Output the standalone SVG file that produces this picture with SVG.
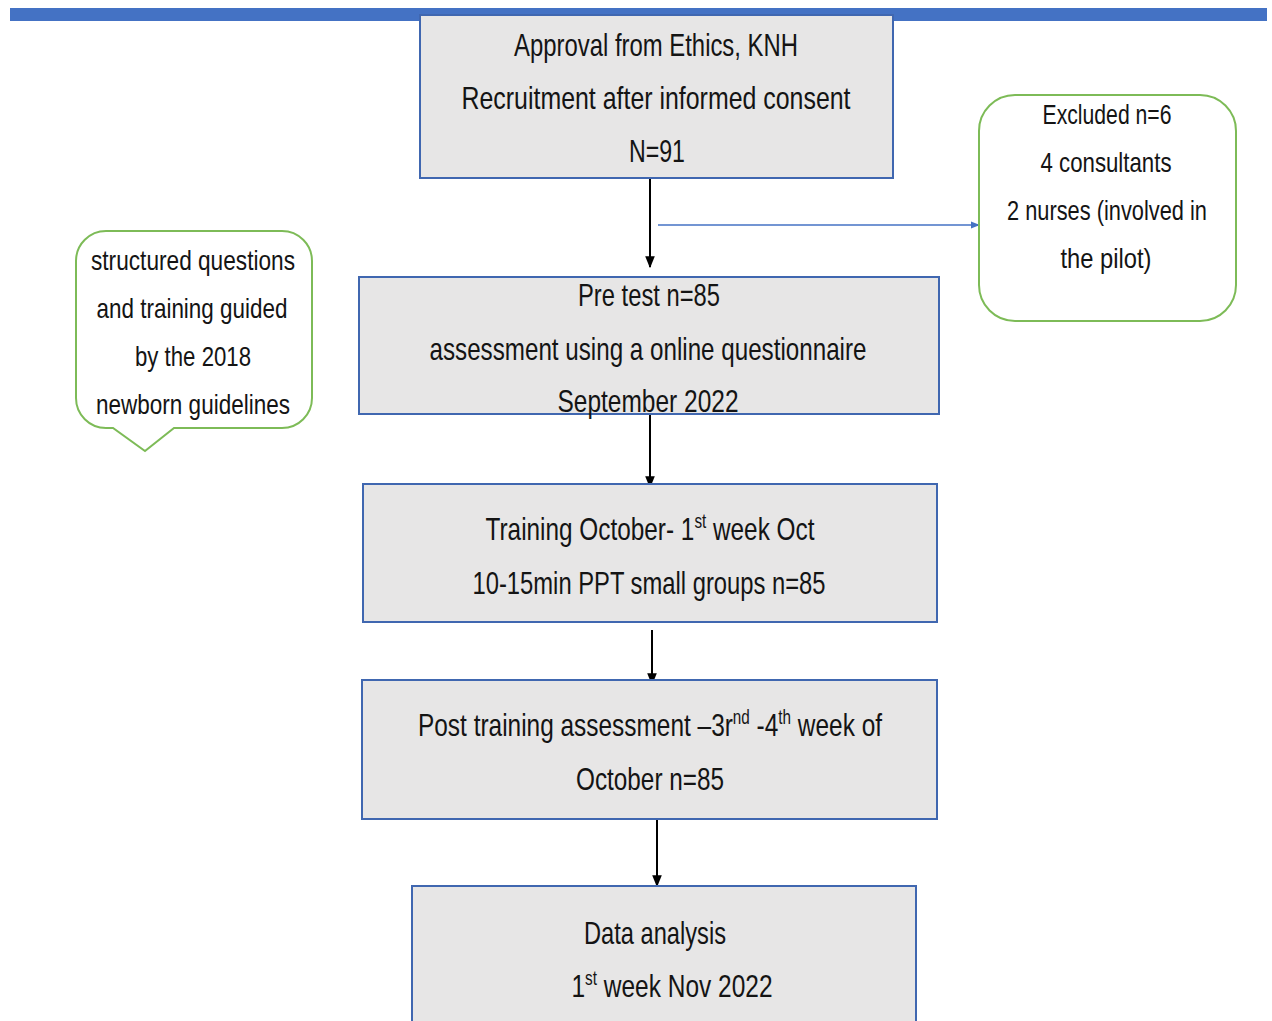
<svg xmlns="http://www.w3.org/2000/svg" width="1272" height="1021" viewBox="0 0 1272 1021">
<defs>
<style>
.box{fill:#E7E6E6;stroke:#4067B0;stroke-width:2}
.green{fill:#FFFFFF;stroke:#7DBB57;stroke-width:2}
text{font-family:"Liberation Sans",Arial,sans-serif;fill:#141414;text-anchor:middle}
.m{font-size:32px}
.s{font-size:28px}
.sup{font-size:20px}
.blk{stroke:#000;stroke-width:2;fill:none}
.blu{stroke:#4472C4;stroke-width:1.5;fill:none}
</style>
<marker id="ab" viewBox="0 0 10 10" refX="9" refY="5" markerWidth="6" markerHeight="6" orient="auto" markerUnits="strokeWidth"><path d="M0,1 L10,5 L0,9 z" fill="#000"/></marker>
<marker id="au" viewBox="0 0 10 10" refX="9" refY="5" markerWidth="6" markerHeight="7" orient="auto" markerUnits="strokeWidth"><path d="M0,1 L10,5 L0,9 z" fill="#4472C4"/></marker>
</defs>
<rect x="10" y="8" width="1257" height="13" fill="#4472C4"/>
<g id="connectors">
<line class="blk" x1="650" y1="179" x2="650" y2="267" marker-end="url(#ab)"/>
<line class="blu" x1="658" y1="225" x2="979" y2="225" marker-end="url(#au)"/>
<line class="blk" x1="650" y1="410" x2="650" y2="487" marker-end="url(#ab)"/>
<line class="blk" x1="652" y1="630" x2="652" y2="684" marker-end="url(#ab)"/>
<line class="blk" x1="657" y1="820" x2="657" y2="886" marker-end="url(#ab)"/>
</g>
<g id="approval">
<rect class="box" x="420" y="15" width="473" height="163"/>
<text class="m" x="656" y="56" textLength="284" lengthAdjust="spacingAndGlyphs">Approval from Ethics, KNH</text>
<text class="m" x="656" y="109" textLength="389" lengthAdjust="spacingAndGlyphs">Recruitment after informed consent</text>
<text class="m" x="657" y="162" textLength="56" lengthAdjust="spacingAndGlyphs">N=91</text>
</g>
<g id="excluded">
<rect class="green" x="979" y="95" width="257" height="226" rx="36" ry="36"/>
<text class="s" x="1107" y="124" textLength="129" lengthAdjust="spacingAndGlyphs">Excluded n=6</text>
<text class="s" x="1106" y="172" textLength="131" lengthAdjust="spacingAndGlyphs">4 consultants</text>
<text class="s" x="1107" y="220" textLength="200" lengthAdjust="spacingAndGlyphs">2 nurses (involved in</text>
<text class="s" x="1106" y="268" textLength="91" lengthAdjust="spacingAndGlyphs">the pilot)</text>
</g>
<g id="callout">
<path class="green" d="M106,231 H282 A30,30 0 0 1 312,261 V398 A30,30 0 0 1 282,428 H174 L145,451 L113,428 H106 A30,30 0 0 1 76,398 V261 A30,30 0 0 1 106,231 Z"/>
<text class="s" x="193" y="270" textLength="204" lengthAdjust="spacingAndGlyphs">structured questions</text>
<text class="s" x="192" y="318" textLength="191" lengthAdjust="spacingAndGlyphs">and training guided</text>
<text class="s" x="193" y="366" textLength="116" lengthAdjust="spacingAndGlyphs">by the 2018</text>
<text class="s" x="193" y="414" textLength="194" lengthAdjust="spacingAndGlyphs">newborn guidelines</text>
</g>
<g id="pretest">
<rect class="box" x="359" y="277" width="580" height="137"/>
<text class="m" x="649" y="306" textLength="142" lengthAdjust="spacingAndGlyphs">Pre test n=85</text>
<text class="m" x="648" y="360" textLength="437" lengthAdjust="spacingAndGlyphs">assessment using a online questionnaire</text>
<text class="m" x="648" y="412" textLength="181" lengthAdjust="spacingAndGlyphs">September 2022</text>
</g>
<g id="training">
<rect class="box" x="363" y="484" width="574" height="138"/>
<text class="m" x="650" y="540" textLength="329" lengthAdjust="spacingAndGlyphs">Training October- 1<tspan class="sup" dy="-12">st</tspan><tspan dy="12"> week Oct</tspan></text>
<text class="m" x="649" y="594" textLength="353" lengthAdjust="spacingAndGlyphs">10-15min PPT small groups n=85</text>
</g>
<g id="posttraining">
<rect class="box" x="362" y="680" width="575" height="139"/>
<text class="m" x="650" y="736" textLength="464" lengthAdjust="spacingAndGlyphs">Post training assessment –3r<tspan class="sup" dy="-12">nd</tspan><tspan dy="12"> -4</tspan><tspan class="sup" dy="-12">th</tspan><tspan dy="12"> week of</tspan></text>
<text class="m" x="650" y="790" textLength="148" lengthAdjust="spacingAndGlyphs">October n=85</text>
</g>
<g id="analysis">
<rect class="box" x="412" y="886" width="504" height="150"/>
<text class="m" x="655" y="944" textLength="142" lengthAdjust="spacingAndGlyphs">Data analysis</text>
<text class="m" x="672" y="997" textLength="201" lengthAdjust="spacingAndGlyphs">1<tspan class="sup" dy="-12">st</tspan><tspan dy="12"> week Nov 2022</tspan></text>
</g>
</svg>
